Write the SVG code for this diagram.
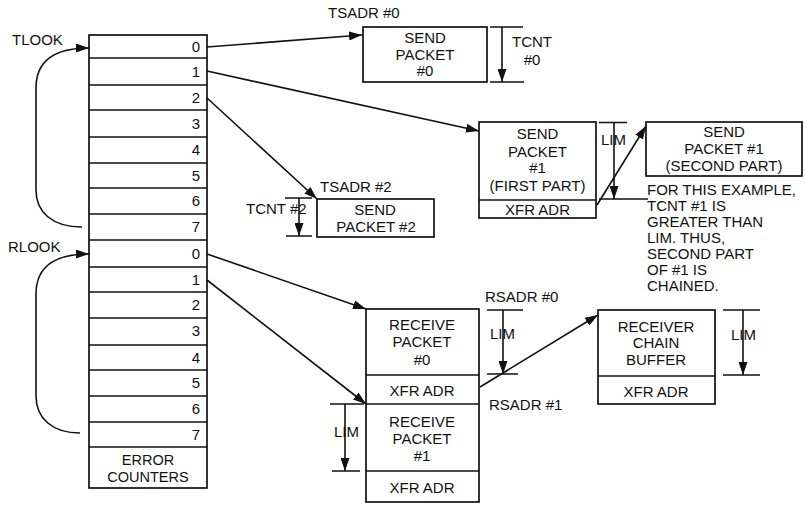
<svg xmlns="http://www.w3.org/2000/svg" width="806" height="505" viewBox="0 0 806 505">
<defs>
<marker id="ah" markerUnits="userSpaceOnUse" markerWidth="13" markerHeight="9" refX="13" refY="4.5" orient="auto">
<path d="M0,0 L13,4.5 L0,9 z" fill="#111"/>
</marker>
<style>
text{font-family:"Liberation Sans",Arial,sans-serif;font-size:15px;fill:#111}
.c{text-anchor:middle}
.e{text-anchor:end}
.s{font-size:14.5px}
.b{fill:#fff;stroke:#111;stroke-width:1.7}
.l{stroke:#111;stroke-width:1.5;fill:none}
.a{stroke:#111;stroke-width:1.6;fill:none;marker-end:url(#ah)}
</style>
</defs>
<rect width="806" height="505" fill="#fff"/>

<g id="table">
<rect class="b" x="89" y="35" width="118" height="453"/>
<path class="l" d="M89 58H207M89 85H207M89 110H207M89 137H207M89 163H207M89 188H207M89 214H207M89 240H207M89 267H207M89 292H207M89 318H207M89 345H207M89 370H207M89 396H207M89 422H207M89 447H207"/>
<text class="e" x="200" y="52">0</text>
<text class="e" x="200" y="77">1</text>
<text class="e" x="200" y="103">2</text>
<text class="e" x="200" y="129">3</text>
<text class="e" x="200" y="155">4</text>
<text class="e" x="200" y="181">5</text>
<text class="e" x="200" y="206">6</text>
<text class="e" x="200" y="232">7</text>
<text class="e" x="200" y="259">0</text>
<text class="e" x="200" y="285">1</text>
<text class="e" x="200" y="310">2</text>
<text class="e" x="200" y="336">3</text>
<text class="e" x="200" y="363">4</text>
<text class="e" x="200" y="388">5</text>
<text class="e" x="200" y="414">6</text>
<text class="e" x="200" y="440">7</text>
<text class="c s" x="148" y="465">ERROR</text>
<text class="c s" x="148" y="482">COUNTERS</text>
</g>

<g id="tlook">
<text x="12" y="45">TLOOK</text>
</g>
<g id="rlook">
<text x="8" y="252">RLOOK</text>
</g>

<g id="send0">
<rect class="b" x="363" y="27" width="124" height="55"/>
<text class="c" x="425" y="43">SEND</text>
<text class="c" x="425" y="60">PACKET</text>
<text class="c" x="425" y="76">#0</text>
<text x="328" y="18">TSADR #0</text>
</g>

<g id="tcnt0">
<path class="l" d="M490 27H523M490 82H524"/>
<text class="c" x="532" y="47">TCNT</text>
<text class="c" x="532" y="65">#0</text>
</g>

<g id="send1a">
<rect class="b" x="479" y="122" width="117" height="96"/>
<path class="l" d="M479 200H596"/>
<text class="c" x="537.5" y="139">SEND</text>
<text class="c" x="537.5" y="157">PACKET</text>
<text class="c" x="537.5" y="173">#1</text>
<text class="c" x="537.5" y="191">(FIRST PART)</text>
<text class="c" x="537.5" y="215">XFR ADR</text>
</g>

<g id="lim1">
<path class="l" d="M599 122.5H627M599 199H648"/>
<text x="601" y="145">LIM</text>
</g>

<g id="send1b">
<rect class="b" x="646" y="122" width="156" height="54"/>
<text class="c" x="724" y="137">SEND</text>
<text class="c" x="724" y="154">PACKET #1</text>
<text class="c" x="724" y="171">(SECOND PART)</text>
</g>

<g id="note">
<text x="647" y="195">FOR THIS EXAMPLE,</text>
<text x="647" y="211">TCNT #1 IS</text>
<text x="647" y="227">GREATER THAN</text>
<text x="647" y="243">LIM. THUS,</text>
<text x="647" y="259">SECOND PART</text>
<text x="647" y="275">OF #1 IS</text>
<text x="647" y="291">CHAINED.</text>
</g>

<g id="send2">
<rect class="b" x="317" y="199" width="117" height="38"/>
<text class="c" x="375" y="215">SEND</text>
<text class="c" x="376" y="232">PACKET #2</text>
<text x="320" y="192">TSADR #2</text>
</g>

<g id="tcnt2">
<path class="l" d="M285 198H312M286 236H312"/>
<text x="246" y="214">TCNT #2</text>
</g>

<g id="recv">
<rect class="b" x="366" y="309" width="113" height="193"/>
<path class="l" d="M366 375H479M366 404H479M366 471H479"/>
<text class="c" x="422" y="330">RECEIVE</text>
<text class="c" x="422" y="347">PACKET</text>
<text class="c" x="422" y="365">#0</text>
<text class="c" x="422" y="396">XFR ADR</text>
<text class="c" x="422" y="427">RECEIVE</text>
<text class="c" x="422" y="444">PACKET</text>
<text class="c" x="422" y="461">#1</text>
<text class="c" x="422" y="493">XFR ADR</text>
</g>

<g id="rsadr0">
<text x="485" y="302">RSADR #0</text>
<path class="l" d="M487 310H523M487 374H518"/>
<text x="490" y="339">LIM</text>
</g>
<g id="rsadr1">
<text x="489" y="410">RSADR #1</text>
</g>

<g id="limr1">
<path class="l" d="M330 404H364M332 471H360"/>
<text x="334" y="437">LIM</text>
</g>

<g id="chain">
<rect class="b" x="598" y="310" width="117" height="94"/>
<path class="l" d="M598 376H715"/>
<text class="c" x="656" y="332">RECEIVER</text>
<text class="c" x="656" y="348">CHAIN</text>
<text class="c" x="656" y="365">BUFFER</text>
<text class="c" x="656" y="397">XFR ADR</text>
</g>

<g id="limc">
<path class="l" d="M723 310H760M723 375H760"/>
<text x="731" y="340">LIM</text>
</g>

<g id="connectors">
<path class="a" d="M82 227C52 227 36 212 36 190V88C36 62 52 48 89 48"/>
<path class="a" d="M80 433C52 433 36 418 36 396V294C36 268 52 254 89 254"/>
<path class="a" d="M207 47L362 35"/>
<path class="a" d="M207 71L479 131"/>
<path class="a" d="M207 98L317 199"/>
<path class="a" d="M207 254L366 309"/>
<path class="a" d="M207 280L366 404"/>
<path class="a" d="M597 205L646 126"/>
<path class="a" d="M480 387L598 315"/>
<path class="a" d="M502 27V82"/>
<path class="a" d="M299 198V236"/>
<path class="a" d="M614 123V199"/>
<path class="a" d="M503 310V374"/>
<path class="a" d="M345 404V471"/>
<path class="a" d="M743 310V375"/>
</g>
</svg>
